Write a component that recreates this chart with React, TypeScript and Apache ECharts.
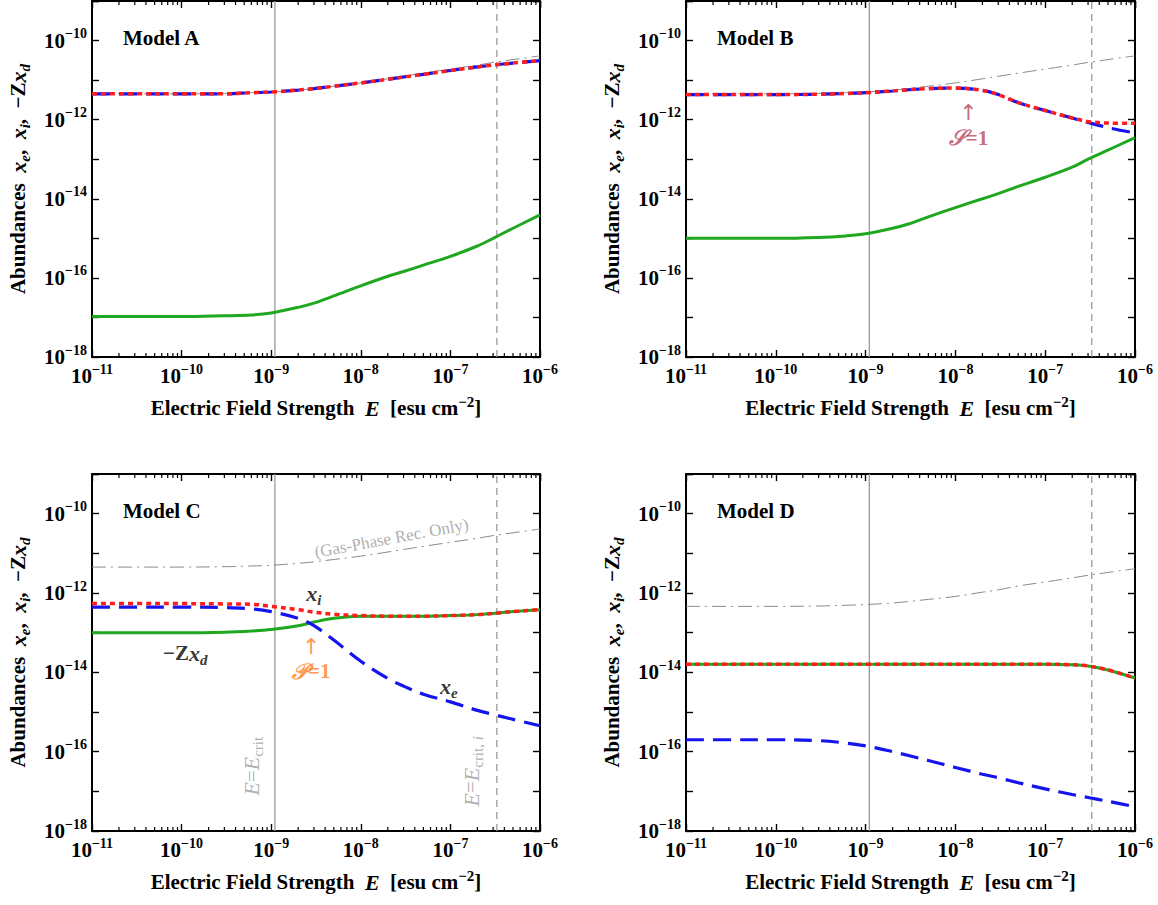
import React, { useEffect, useRef } from "react";
import * as echarts from "echarts";

// ---- data -------------------------------------------------------------
const FIELD_E = [
  1e-11, 3e-11, 1e-10, 3e-10, 6e-10, 1e-9, 2e-9, 3e-9, 5e-9, 1e-8, 2e-8, 3e-8,
  5e-8, 1e-7, 2e-7, 3e-7, 5e-7, 1e-6,
];

const E_MIN = 1e-11;
const E_MAX = 1e-6;
const Y_MIN = 1e-18;
const Y_MAX = 1e-9;
const E_CRIT = 1.1e-9;
const E_CRIT_I = 3.3e-7;

// gas-phase recombination only (dash-dot reference curve)
const GAS_ONLY_ABC = [
  4.5e-12, 4.5e-12, 4.5e-12, 4.6e-12, 4.8e-12, 5.0e-12, 5.6e-12, 6.1e-12, 7.0e-12,
  8.5e-12, 1.08e-11, 1.25e-11, 1.5e-11, 1.9e-11, 2.4e-11, 2.8e-11, 3.3e-11, 4.1e-11,
];
const GAS_ONLY_D = [
  4.6e-13, 4.6e-13, 4.6e-13, 4.7e-13, 4.9e-13, 5.1e-13, 5.6e-13, 6.1e-13, 6.9e-13,
  8.2e-13, 1.05e-12, 1.2e-12, 1.5e-12, 1.9e-12, 2.4e-12, 2.8e-12, 3.3e-12, 4.1e-12,
];

// Model A
const A_XE = [
  4.5e-12, 4.5e-12, 4.5e-12, 4.5e-12, 4.8e-12, 5.0e-12, 5.6e-12, 6.1e-12, 7.0e-12,
  8.5e-12, 1.05e-11, 1.2e-11, 1.4e-11, 1.75e-11, 2.15e-11, 2.4e-11, 2.7e-11, 3.1e-11,
];
const A_XI = [
  4.5e-12, 4.5e-12, 4.5e-12, 4.5e-12, 4.8e-12, 5.0e-12, 5.6e-12, 6.1e-12, 7.0e-12,
  8.5e-12, 1.05e-11, 1.2e-11, 1.4e-11, 1.75e-11, 2.15e-11, 2.4e-11, 2.7e-11, 3.1e-11,
];
const A_ZXD = [
  1.05e-17, 1.05e-17, 1.05e-17, 1.1e-17, 1.15e-17, 1.3e-17, 1.8e-17, 2.3e-17, 3.5e-17,
  6.3e-17, 1.1e-16, 1.45e-16, 2.1e-16, 3.5e-16, 6.4e-16, 1.0e-15, 1.8e-15, 3.9e-15,
];

// Model B
const B_XE = [
  4.3e-12, 4.3e-12, 4.3e-12, 4.4e-12, 4.6e-12, 4.8e-12, 5.3e-12, 5.7e-12, 6.1e-12,
  6.3e-12, 5.5e-12, 4.3e-12, 2.7e-12, 1.7e-12, 1.1e-12, 8.5e-13, 6.3e-13, 4.6e-13,
];
const B_XI = [
  4.3e-12, 4.3e-12, 4.3e-12, 4.4e-12, 4.6e-12, 4.8e-12, 5.3e-12, 5.7e-12, 6.1e-12,
  6.3e-12, 5.5e-12, 4.3e-12, 2.7e-12, 1.7e-12, 1.1e-12, 9.0e-13, 8.2e-13, 8.1e-13,
];
const B_ZXD = [
  1.0e-15, 1.0e-15, 1.0e-15, 1.05e-15, 1.15e-15, 1.3e-15, 1.8e-15, 2.3e-15, 3.5e-15,
  6.0e-15, 1.0e-14, 1.35e-14, 2.05e-14, 3.5e-14, 6.3e-14, 1.0e-13, 1.7e-13, 3.5e-13,
];

// Model C
const C_XE = [
  4.4e-13, 4.4e-13, 4.4e-13, 4.3e-13, 4.0e-13, 3.4e-13, 2.3e-13, 1.5e-13, 6.5e-14,
  1.9e-14, 7.0e-15, 4.5e-15, 2.8e-15, 1.8e-15, 1.1e-15, 8.7e-16, 6.5e-16, 4.5e-16,
];
const C_XI = [
  5.4e-13, 5.4e-13, 5.4e-13, 5.3e-13, 5.2e-13, 4.6e-13, 3.8e-13, 3.3e-13, 2.9e-13,
  2.7e-13, 2.6e-13, 2.6e-13, 2.6e-13, 2.7e-13, 2.85e-13, 3.05e-13, 3.4e-13, 3.8e-13,
];
const C_ZXD = [
  1.0e-13, 1.0e-13, 1.0e-13, 1.03e-13, 1.1e-13, 1.2e-13, 1.5e-13, 1.85e-13, 2.3e-13,
  2.6e-13, 2.6e-13, 2.6e-13, 2.6e-13, 2.7e-13, 2.85e-13, 3.05e-13, 3.4e-13, 3.8e-13,
];

// Model D
const D_XE = [
  2.0e-16, 2.0e-16, 2.0e-16, 1.9e-16, 1.65e-16, 1.4e-16, 1.0e-16, 8.0e-17, 6.0e-17,
  4.0e-17, 2.7e-17, 2.2e-17, 1.65e-17, 1.15e-17, 8.3e-18, 7.0e-18, 5.6e-18, 4.1e-18,
];
const D_XI = [
  1.6e-14, 1.6e-14, 1.6e-14, 1.6e-14, 1.6e-14, 1.6e-14, 1.6e-14, 1.6e-14, 1.6e-14,
  1.6e-14, 1.6e-14, 1.6e-14, 1.6e-14, 1.6e-14, 1.55e-14, 1.45e-14, 1.15e-14, 7.2e-15,
];
const D_ZXD = [
  1.6e-14, 1.6e-14, 1.6e-14, 1.6e-14, 1.6e-14, 1.6e-14, 1.6e-14, 1.6e-14, 1.6e-14,
  1.6e-14, 1.6e-14, 1.6e-14, 1.6e-14, 1.6e-14, 1.55e-14, 1.45e-14, 1.15e-14, 7.2e-15,
];

const PANEL_NAMES = ["Model A", "Model B", "Model C", "Model D"];
const PANEL_SERIES = [
  { gas: GAS_ONLY_ABC, xe: A_XE, xi: A_XI, zxd: A_ZXD },
  { gas: GAS_ONLY_ABC, xe: B_XE, xi: B_XI, zxd: B_ZXD },
  { gas: GAS_ONLY_ABC, xe: C_XE, xi: C_XI, zxd: C_ZXD },
  { gas: GAS_ONLY_D, xe: D_XE, xi: D_XI, zxd: D_ZXD },
];

// ---- styling / layout ---------------------------------------------------
const FONT = '"Liberation Serif", "Times New Roman", serif';
const GRIDS = [
  { left: 92, top: 1, width: 448, height: 356 },
  { left: 686, top: 1, width: 449, height: 356 },
  { left: 92, top: 474, width: 448, height: 357 },
  { left: 686, top: 474, width: 449, height: 357 },
];

const BLUE = "#1414ee";
const RED = "#ff1c1c";
const GREEN = "#1fa81f";
const GRAY = "#9a9a9a";

const tickRich = {
  b: { fontFamily: FONT, fontWeight: "bold", fontSize: 21, color: "#000", lineHeight: 28 },
  sup: {
    fontFamily: FONT, fontWeight: "bold", fontSize: 14, color: "#000",
    lineHeight: 20, verticalAlign: "top",
  },
};

const textRich = (size: number, color: string, weight = "bold") => ({
  b: { fontFamily: FONT, fontWeight: weight, fontSize: size, color, lineHeight: 28 },
  i: { fontFamily: FONT, fontWeight: weight, fontStyle: "italic", fontSize: size + 1, color, lineHeight: 28 },
  sub: {
    fontFamily: FONT, fontWeight: weight, fontStyle: "italic", fontSize: size - 6, color,
    lineHeight: 14, verticalAlign: "bottom",
  },
  subr: {
    fontFamily: FONT, fontWeight: weight, fontSize: size - 6, color,
    lineHeight: 14, verticalAlign: "bottom",
  },
  sup: {
    fontFamily: FONT, fontWeight: weight, fontSize: size - 6, color,
    lineHeight: 19, verticalAlign: "top",
  },
  arrow: { fontFamily: '"DejaVu Sans", sans-serif', fontWeight: "normal", fontSize: 22, color, lineHeight: 18 },
});

const exponentLabel = (v: number) => {
  const p = Math.round(Math.log10(v));
  return `{b|10}{sup|\u2212${-p}}`;
};

// log-spaced minor tick positions, 2..9 within each decade
const MINOR_E: number[] = [];
for (let d = -11; d < -6; d++) {
  for (let k = 2; k <= 9; k++) MINOR_E.push(k * Math.pow(10, d));
}

const pairs = (ys: number[]) => FIELD_E.map((e, i) => [e, ys[i]]);

function buildOption() {
  const xAxis: any[] = [];
  const yAxis: any[] = [];
  const series: any[] = [];
  const graphic: any[] = [];

  GRIDS.forEach((g, i) => {
    const axisLine = { show: true, onZero: false, lineStyle: { color: "#000", width: 2 } };
    const axisTick = { show: true, inside: true, length: 7, lineStyle: { color: "#000", width: 1.4 } };

    xAxis.push({
      type: "log", logBase: 10, gridIndex: i, min: E_MIN, max: E_MAX, position: "bottom",
      axisLine, axisTick, splitLine: { show: false },
      axisLabel: { formatter: exponentLabel, rich: tickRich, margin: 5, showMinLabel: true, showMaxLabel: true },
      name: "{b|Electric Field Strength  }{i|E}{b|  [esu cm}{sup|\u22122}{b|]}",
      nameLocation: "middle", nameGap: 37,
      nameTextStyle: { rich: textRich(21, "#000") },
    });
    xAxis.push({
      type: "log", logBase: 10, gridIndex: i, min: E_MIN, max: E_MAX, position: "top",
      axisLine, axisTick, axisLabel: { show: false }, splitLine: { show: false },
    });
    yAxis.push({
      type: "log", logBase: 10, gridIndex: i, min: Y_MIN, max: Y_MAX, position: "left",
      splitNumber: 9,
      axisLine, axisTick, splitLine: { show: false },
      axisLabel: {
        formatter: (v: number) => {
          const p = Math.round(Math.log10(v));
          return p % 2 === 0 ? exponentLabel(v) : "";
        },
        rich: tickRich, margin: 5, showMinLabel: true, showMaxLabel: true,
      },
      name: "{b|Abundances  }{i|x}{sub|e}{b|,  }{i|x}{sub|i}{b|,  \u2212Z}{i|x}{sub|d}",
      nameLocation: "middle", nameGap: 60, nameRotate: 90,
      nameTextStyle: { rich: textRich(21, "#000") },
    });
    yAxis.push({
      type: "log", logBase: 10, gridIndex: i, min: Y_MIN, max: Y_MAX, position: "right",
      splitNumber: 9,
      axisLine, axisTick, axisLabel: { show: false }, splitLine: { show: false },
    });

    const xi = 2 * i;
    const yi = 2 * i;
    const s = PANEL_SERIES[i];
    const curve = (data: number[], color: string, width: number, type: any, z: number) => ({
      type: "line", xAxisIndex: xi, yAxisIndex: yi, data: pairs(data),
      showSymbol: false, symbol: "none", smooth: 0.35, silent: true,
      lineStyle: { color, width, type, cap: "butt" }, z,
    });

    series.push(curve(s.gas, "#8a8a8a", 1, [14, 5, 2, 5], 2));
    series.push({
      type: "line", xAxisIndex: xi, yAxisIndex: yi, data: [[E_CRIT, Y_MIN], [E_CRIT, Y_MAX]],
      showSymbol: false, symbol: "none", silent: true,
      lineStyle: { color: GRAY, width: 1.3 }, z: 1,
    });
    series.push({
      type: "line", xAxisIndex: xi, yAxisIndex: yi, data: [[E_CRIT_I, Y_MIN], [E_CRIT_I, Y_MAX]],
      showSymbol: false, symbol: "none", silent: true,
      lineStyle: { color: GRAY, width: 1.3, type: [7, 5] }, z: 1,
    });
    series.push(curve(s.zxd, GREEN, 3, "solid", 3));
    series.push(curve(s.xe, BLUE, 3.2, [18, 9], 4));
    series.push(curve(s.xi, RED, 3.5, [5, 4], 5));

    // logarithmic minor ticks on the bottom and top frame
    series.push({
      type: "custom", xAxisIndex: xi, yAxisIndex: yi, silent: true, z: 10,
      data: MINOR_E.map((e) => [e, Y_MIN]),
      renderItem: (_p: any, api: any) => {
        const x = api.value(0);
        const b = api.coord([x, Y_MIN]);
        const t = api.coord([x, Y_MAX]);
        const st = { stroke: "#000", lineWidth: 1.2 };
        return {
          type: "group",
          children: [
            { type: "line", shape: { x1: b[0], y1: b[1], x2: b[0], y2: b[1] - 4 }, style: st },
            { type: "line", shape: { x1: t[0], y1: t[1], x2: t[0], y2: t[1] + 4 }, style: st },
          ],
        };
      },
    });

    graphic.push({
      type: "text", left: g.left + 31, top: g.top + 26, silent: true,
      style: { text: PANEL_NAMES[i], font: `bold 21px ${FONT}`, fill: "#000" },
    });
  });

  // annotations placed in data coordinates
  const note = (value: number[], formatter: string, rich: any, rotate = 0) => ({
    value, label: { show: true, position: "inside", formatter, rich, rotate },
  });

  const S_COLOR = "#b8465f";
  const P_COLOR = "#ff7f1f";

  series.push({
    type: "scatter", xAxisIndex: 2, yAxisIndex: 2, symbolSize: 0, silent: true, z: 20,
    data: [
      note([1.4e-8, 1.5e-12], "{arrow|\u2191}", textRich(18, S_COLOR, "normal")),
      note([1.4e-8, 3.5e-13], "{i|\uD835\uDCAE}{b|=1}", textRich(21, S_COLOR)),
    ],
  });

  series.push({
    type: "scatter", xAxisIndex: 4, yAxisIndex: 4, symbolSize: 0, silent: true, z: 20,
    data: [
      note([3.0e-9, 9.8e-13], "{i|x}{sub|i}", textRich(21, "#000")),
      note([1.1e-10, 3.0e-14], "{b|\u2212Z}{i|x}{sub|d}", textRich(21, "#000")),
      note([2.8e-9, 4.6e-14], "{arrow|\u2191}", textRich(18, P_COLOR, "normal")),
      note([2.8e-9, 1.05e-14], "{i|\uD835\uDCAB}{b|=1}", textRich(21, P_COLOR)),
      note([9.6e-8, 4.5e-15], "{i|x}{sub|e}", textRich(21, "#000")),
      note([2.2e-8, 2.4e-11], "{b|(Gas-Phase Rec. Only)}", textRich(17, GRAY, "normal"), 10.5),
      note([6.1e-10, 4.3e-17], "{i|E}{b|=}{i|E}{subr|crit}", textRich(21, GRAY, "normal"), 90),
      note([1.7e-7, 3.2e-17], "{i|E}{b|=}{i|E}{subr|crit,}{sub| i}", textRich(21, GRAY, "normal"), 90),
    ],
  });

  return {
    animation: false,
    backgroundColor: "#fff",
    grid: GRIDS.map((g) => ({ ...g, containLabel: false })),
    xAxis,
    yAxis,
    series,
    graphic,
  };
}

export default function App() {
  const ref = useRef<HTMLDivElement>(null);
  useEffect(() => {
    if (!ref.current) return;
    const chart = echarts.init(ref.current, undefined, { renderer: "svg" });
    chart.setOption(buildOption() as any);
    return () => chart.dispose();
  }, []);
  return (
    <div
      ref={ref}
      style={{ position: "absolute", left: 0, top: 0, width: 1158, height: 905, background: "#fff" }}
    />
  );
}
